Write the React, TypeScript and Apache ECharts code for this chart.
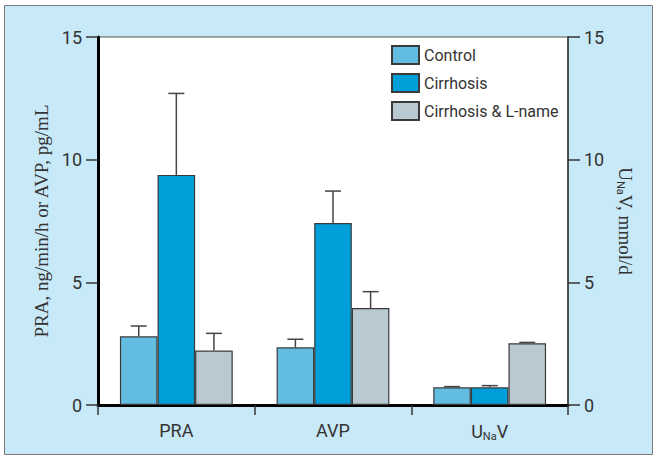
import React, { useEffect, useRef } from "react";
import * as echarts from "echarts";

const categories = ["PRA", "AVP", "UNaV"];
const seriesNames = ["Control", "Cirrhosis", "Cirrhosis & L-name"];
const control = [2.8, 2.35, 0.72];
const controlErr = [3.22, 2.68, 0.75];
const cirrhosis = [9.38, 7.42, 0.72];
const cirrhosisErr = [12.7, 8.72, 0.79];
const lname = [2.22, 3.95, 2.52];
const lnameErr = [2.92, 4.62, 2.55];
const yTicks = [0, 5, 10, 15];

const colors = ["#63bde1", "#009fd9", "#b9c9d1"];
const sans = 'Roboto, "Liberation Sans", sans-serif';
const serif = '"Liberation Serif", "DejaVu Serif", serif';
const BAR_FRAC = 0.24;

export default function App() {
  const ref = useRef<HTMLDivElement>(null);
  useEffect(() => {
    if (!ref.current) return;
    const chart = echarts.init(ref.current, undefined, { renderer: "svg" });
    const values = [control, cirrhosis, lname];
    const errs = [controlErr, cirrhosisErr, lnameErr];
    const barSeries = values.map((vals, i) => ({
      name: seriesNames[i],
      type: "bar",
      data: vals,
      barWidth: "24%",
      barGap: "0%",
      itemStyle: { color: colors[i], borderColor: "#3a3a3a", borderWidth: 1.2 },
      z: 2,
    }));
    const errSeries = errs.map((ev, i) => ({
      name: "err" + i,
      type: "custom",
      data: ev.map((e, k) => [k, values[i][k], e]),
      encode: { x: 0, y: [1, 2] },
      z: 5,
      silent: true,
      renderItem: (params: any, api: any) => {
        const c = api.value(0);
        const v = api.value(1);
        const e = api.value(2);
        const base = api.coord([c, v]);
        const top = api.coord([c, e]);
        const bw = api.size([1, 0])[0] * BAR_FRAC;
        const x = base[0] + bw * (i - 1);
        const st = { stroke: "#444", lineWidth: 1.5 };
        return {
          type: "group",
          children: [
            { type: "line", shape: { x1: x, y1: base[1], x2: x, y2: top[1] }, style: st },
            { type: "line", shape: { x1: x - 8, y1: top[1], x2: x + 8, y2: top[1] }, style: st },
          ],
        };
      },
    }));
    const tickLabel = { fontFamily: sans, fontSize: 18, color: "#333" };
    chart.setOption({
      animation: false,
      backgroundColor: "#ffffff",
      graphic: [
        {
          type: "rect",
          z: -10,
          shape: { x: 4.5, y: 5.5, width: 648, height: 449 },
          style: { fill: "#c8e9f8", stroke: "#7a7a7a", lineWidth: 1 },
        },
      ],
      grid: {
        left: 98,
        right: 89,
        top: 37,
        bottom: 54,
        show: true,
        backgroundColor: "#ffffff",
        borderColor: "#555",
        borderWidth: 1,
      },
      legend: {
        data: seriesNames,
        orient: "vertical",
        left: 391,
        top: 45,
        padding: 0,
        itemWidth: 27,
        itemHeight: 18,
        itemGap: 8,
        icon: "rect",
        textStyle: { fontFamily: sans, fontSize: 16, color: "#333" },
      },
      xAxis: {
        type: "category",
        data: categories,
        axisLine: { lineStyle: { color: "#000", width: 3 } },
        axisTick: { show: true, length: 10, lineStyle: { color: "#333", width: 1.5 } },
        axisLabel: {
          margin: 16,
          formatter: (v: string) => (v === "UNaV" ? "{a|U}{s|Na}{a|V}" : "{a|" + v + "}"),
          rich: {
            a: { fontFamily: sans, fontSize: 18, color: "#333" },
            s: { fontFamily: sans, fontSize: 11, color: "#333", padding: [10, 0, 0, 0] },
          },
        },
      },
      yAxis: [
        {
          type: "value",
          min: 0,
          max: 15,
          interval: 5,
          position: "left",
          splitLine: { show: false },
          axisLine: { show: true, lineStyle: { color: "#000", width: 3 } },
          axisTick: { show: true, length: 12, lineStyle: { color: "#333", width: 1.5 } },
          axisLabel: { ...tickLabel, margin: 16, formatter: (v: number) => (yTicks.includes(v) ? String(v) : "") },
          name: "PRA, ng/min/h or AVP, pg/mL",
          nameLocation: "middle",
          nameGap: 42,
          nameTextStyle: { fontFamily: serif, fontSize: 19, color: "#333" },
        },
        {
          type: "value",
          min: 0,
          max: 15,
          interval: 5,
          position: "right",
          splitLine: { show: false },
          axisLine: { show: true, lineStyle: { color: "#333", width: 1.5 } },
          axisTick: { show: true, length: 12, lineStyle: { color: "#333", width: 1.5 } },
          axisLabel: { ...tickLabel, margin: 16 },
          name: "{a|U}{s|Na}{a|V, mmol/d}",
          nameLocation: "middle",
          nameGap: 46,
          nameRotate: -90,
          nameTextStyle: {
            rich: {
              a: { fontFamily: serif, fontSize: 19, color: "#333" },
              s: { fontFamily: sans, fontSize: 11, color: "#333", padding: [10, 0, 0, 0] },
            },
          },
        },
      ],
      series: [...barSeries, ...errSeries],
    });
    return () => chart.dispose();
  }, []);
  return (
    <div
      ref={ref}
      style={{ position: "absolute", left: 0, top: 0, width: 657, height: 459 }}
    />
  );
}
